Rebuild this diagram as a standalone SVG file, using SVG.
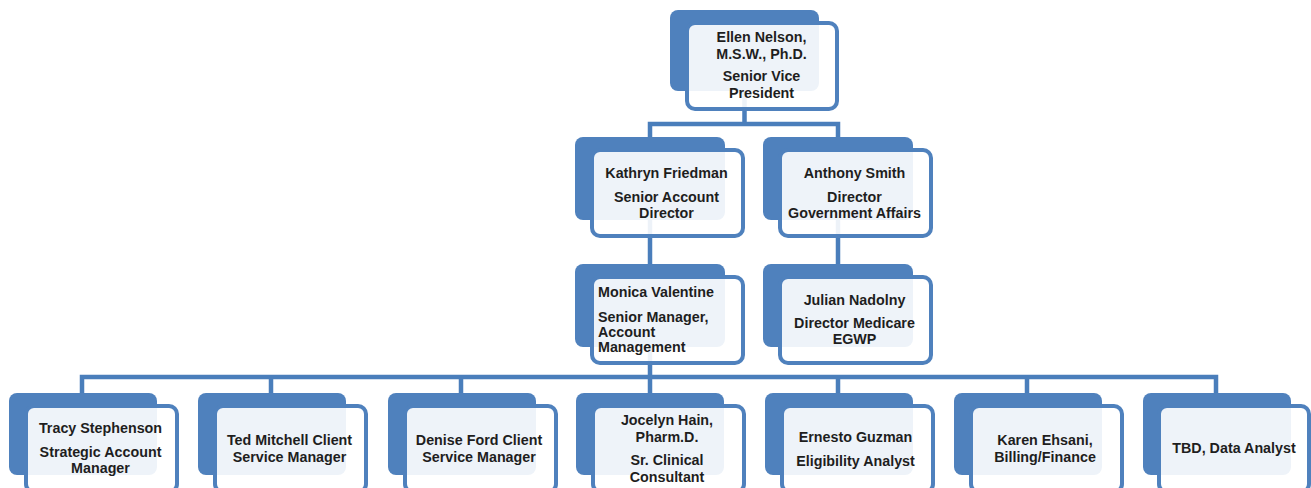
<svg xmlns="http://www.w3.org/2000/svg" width="1311" height="488" viewBox="0 0 1311 488">
<style>
.bk{fill:#4F81BD;}
.fr{fill:#FFFFFF;fill-opacity:0.9;stroke:#4F81BD;stroke-width:4;}
.cn{fill:none;stroke:#4A7EBB;stroke-width:4.5;stroke-linejoin:miter;}
text{font-family:"Liberation Sans",Arial,sans-serif;font-size:14.3px;font-weight:bold;fill:#1E1E1E;}
.c{text-anchor:middle;}
</style>
<rect width="1311" height="488" fill="#FFFFFF"/>
<g id="connectors">
<path class="cn" d="M744.5 60 V124 H650 V150 M744.5 124 H838 V150"/>
<path class="cn" d="M650 200 V280"/>
<path class="cn" d="M838 200 V280"/>
<path class="cn" d="M650 330 V377 M82 400 V377 H1216 V400 M271 377 V400 M461 377 V400 M650 377 V400 M838 377 V400 M1027 377 V400"/>
</g>
<g id="n-ellen">
<rect class="bk" x="670" y="10" width="149" height="81" rx="8"/>
<rect class="fr" x="687" y="23" width="150" height="86" rx="8"/>
<text class="c" x="761.5" y="42">Ellen Nelson,</text>
<text class="c" x="761.5" y="58.5">M.S.W., Ph.D.</text>
<text class="c" x="761.5" y="81">Senior Vice</text>
<text class="c" x="761.5" y="97.5">President</text>
</g>
<g id="n-kathryn">
<rect class="bk" x="575" y="137" width="150" height="83" rx="8"/>
<rect class="fr" x="592" y="150" width="151" height="86" rx="8"/>
<text class="c" x="666.5" y="178">Kathryn Friedman</text>
<text class="c" x="666.5" y="202">Senior Account</text>
<text class="c" x="666.5" y="218">Director</text>
</g>
<g id="n-anthony">
<rect class="bk" x="763" y="137" width="150" height="83" rx="8"/>
<rect class="fr" x="780" y="150" width="151" height="86" rx="8"/>
<text class="c" x="854.5" y="178">Anthony Smith</text>
<text class="c" x="854.5" y="202">Director</text>
<text class="c" x="854.5" y="218">Government Affairs</text>
</g>
<g id="n-monica">
<rect class="bk" x="575" y="264" width="150" height="83" rx="8"/>
<rect class="fr" x="592" y="277" width="151" height="86" rx="8"/>
<text x="598" y="297">Monica Valentine</text>
<text x="598" y="322">Senior Manager,</text>
<text x="598" y="337">Account</text>
<text x="598" y="352">Management</text>
</g>
<g id="n-julian">
<rect class="bk" x="763" y="264" width="150" height="83" rx="8"/>
<rect class="fr" x="780" y="277" width="151" height="86" rx="8"/>
<text class="c" x="854.5" y="305">Julian Nadolny</text>
<text class="c" x="854.5" y="328">Director Medicare</text>
<text class="c" x="854.5" y="344">EGWP</text>
</g>
<g id="n-tracy">
<rect class="bk" x="9" y="393" width="148" height="82" rx="8"/>
<rect class="fr" x="26" y="406" width="151" height="86" rx="8"/>
<text class="c" x="100.5" y="433">Tracy Stephenson</text>
<text class="c" x="100.5" y="457">Strategic Account</text>
<text class="c" x="100.5" y="473">Manager</text>
</g>
<g id="n-ted">
<rect class="bk" x="198" y="393" width="148" height="82" rx="8"/>
<rect class="fr" x="215" y="406" width="151" height="86" rx="8"/>
<text class="c" x="289.5" y="445">Ted Mitchell Client</text>
<text class="c" x="289.5" y="462">Service Manager</text>
</g>
<g id="n-denise">
<rect class="bk" x="388" y="393" width="148" height="82" rx="8"/>
<rect class="fr" x="405" y="406" width="151" height="86" rx="8"/>
<text class="c" x="479" y="445">Denise Ford Client</text>
<text class="c" x="479" y="462">Service Manager</text>
</g>
<g id="n-jocelyn">
<rect class="bk" x="576" y="393" width="148" height="82" rx="8"/>
<rect class="fr" x="593" y="406" width="151" height="86" rx="8"/>
<text class="c" x="667" y="425">Jocelyn Hain,</text>
<text class="c" x="667" y="442">Pharm.D.</text>
<text class="c" x="667" y="465">Sr. Clinical</text>
<text class="c" x="667" y="482">Consultant</text>
</g>
<g id="n-ernesto">
<rect class="bk" x="765" y="393" width="148" height="82" rx="8"/>
<rect class="fr" x="782" y="406" width="151" height="86" rx="8"/>
<text class="c" x="855.5" y="442">Ernesto Guzman</text>
<text class="c" x="855.5" y="466">Eligibility Analyst</text>
</g>
<g id="n-karen">
<rect class="bk" x="954" y="393" width="148" height="82" rx="8"/>
<rect class="fr" x="971" y="406" width="151" height="86" rx="8"/>
<text class="c" x="1045" y="445">Karen Ehsani,</text>
<text class="c" x="1045" y="462">Billing/Finance</text>
</g>
<g id="n-tbd">
<rect class="bk" x="1143" y="393" width="148" height="82" rx="8"/>
<rect class="fr" x="1159" y="406" width="150" height="86" rx="8"/>
<text class="c" x="1234" y="453">TBD, Data Analyst</text>
</g>
</svg>
